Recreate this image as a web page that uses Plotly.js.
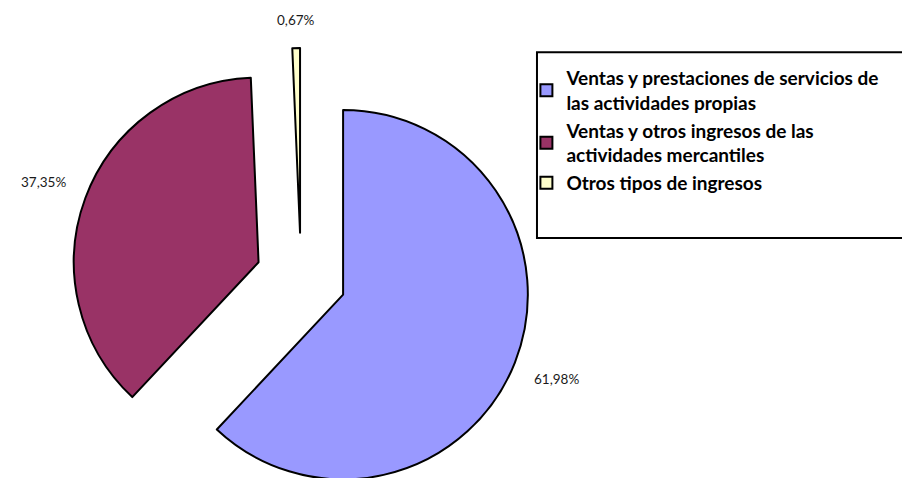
<!DOCTYPE html>
<html>
<head>
<meta charset="utf-8">
<script src="https://cdn.plot.ly/plotly-3.0.1.min.js"></script>
<style>
html, body { margin: 0; padding: 0; overflow: hidden; background: #fff; }
#wrap { width: 902px; height: 478px; overflow: hidden; }
#chart { width: 902px; height: 520px; }
</style>
</head>
<body>
<div id="wrap"><div id="chart"></div></div>
<script>
const categories = [
  "Ventas y prestaciones de servicios de<br>las actividades propias",
  "Ventas y otros ingresos de las<br>actividades mercantiles",
  "Otros tipos de ingresos"
];
const values = [61.98, 37.35, 0.67];
const colors = ["#9999FF", "#993366", "#FFFFCC"];

const PULL = 0.245;
const W = 902, H = 520;
const M = { l: 71, r: 371, t: 48, b: 12 };
const FONT = "Lato, 'Open Sans', sans-serif";

// label placement derived from the data (slice mid-angles) and the pie geometry
const pw = W - M.l - M.r, ph = H - M.t - M.b;
const cx = M.l + pw / 2, cy = M.t + ph / 2;
const rad = Math.min(pw, ph) / 2 / (1 + PULL);
const total = values.reduce((a, b) => a + b, 0);
const fmt = v => (v / total * 100).toFixed(2).replace(".", ",") + "%";
let cum = 0;
const annotations = values.map(v => {
  const mid = (cum + v / 2) / total * 2 * Math.PI;
  cum += v;
  const dx = Math.sin(mid), dy = -Math.cos(mid);
  const vx = cx + dx * rad * PULL, vy = cy + dy * rad * PULL;
  const support = 23 * Math.abs(dx) + 7 * Math.abs(dy);
  const d = rad + 21 + support;
  const px = vx + dx * d, py = vy + dy * d;
  return {
    xref: "paper", yref: "paper",
    x: (px - M.l) / pw, y: (M.t + ph - py) / ph,
    xanchor: "center", yanchor: "middle",
    text: fmt(v), showarrow: false,
    font: { family: FONT, size: 13.5, color: "#1a1a1a" }
  };
});

const trace = {
  type: "pie",
  labels: categories,
  values: values,
  sort: false,
  direction: "clockwise",
  rotation: 0,
  pull: values.map(() => PULL),
  marker: { colors: colors, line: { color: "#000000", width: 2 } },
  textinfo: "none",
  hoverinfo: "none",
  automargin: false
};

const layout = {
  width: W,
  height: H,
  margin: M,
  separators: ",.",
  showlegend: true,
  legend: {
    x: 0.99, y: 0.976, xanchor: "left", yanchor: "top",
    font: { family: FONT, size: 19, color: "#000", weight: "bold" },
    bgcolor: "rgba(0,0,0,0)",
    borderwidth: 0,
    itemwidth: 30
  },
  annotations: annotations,
  shapes: [{
    type: "rect", xref: "paper", yref: "paper",
    x0: 1.013, x1: 1.81, y0: 0.587, y1: 0.991,
    line: { color: "#000", width: 2 }, fillcolor: "rgba(0,0,0,0)"
  }],
  paper_bgcolor: "#fff",
  plot_bgcolor: "#fff"
};

Plotly.newPlot("chart", [trace], layout, { staticPlot: true, displayModeBar: false });
</script>
</body>
</html>
